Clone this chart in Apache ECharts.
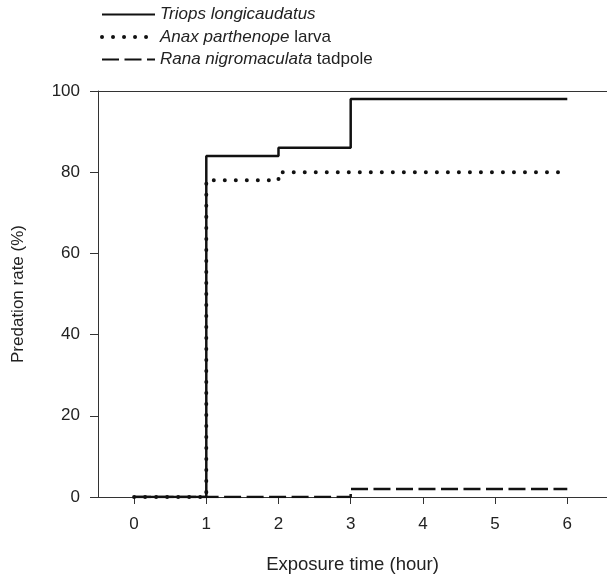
<!DOCTYPE html>
<html>
<head>
<meta charset="utf-8">
<script src="https://cdn.jsdelivr.net/npm/echarts@6/dist/echarts.min.js"></script>
<style>html,body{margin:0;padding:0;background:#fff}#c{width:607px;height:577px}</style>
</head>
<body>
<div id="c"></div>
<script>
var xTicks = [0, 1, 2, 3, 4, 5, 6];
var yTicks = [0, 20, 40, 60, 80, 100];
var hours = [0, 1, 2, 3, 4, 5, 6];
var triops = [0, 84, 86, 98, 98, 98, 98];
var anax = [0, 78, 80, 80, 80, 80, 80];
var rana = [0, 0, 0, 2, 2, 2, 2];
var names = ['Triops longicaudatus', 'Anax parthenope larva', 'Rana nigromaculata tadpole'];

function pairs(v) { return hours.map(function (h, i) { return [h, v[i]]; }); }

var FONT = 'Liberation Sans, Arial, Helvetica, sans-serif';
var dotStyle = { color: '#111', width: 4, type: [0.01, 11], cap: 'round' };
var chart = echarts.init(document.getElementById('c'));
chart.setOption({
  animation: false,
  legend: {
    left: 95, top: 1, orient: 'vertical',
    itemWidth: 53, itemHeight: 14, itemGap: 5.5,
    itemStyle: { opacity: 0 },
    textStyle: {
      fontFamily: FONT, fontSize: 17, color: '#222',
      rich: {
        i: { fontStyle: 'italic', fontFamily: FONT, fontSize: 17, color: '#222', padding: [0, 0, 0, 0] },
        n: { fontFamily: FONT, fontSize: 17, color: '#222' }
      }
    },
    formatter: function (n) {
      if (n === names[0]) return '{i|Triops longicaudatus}';
      if (n === names[1]) return '{i|Anax parthenope}{n| larva}';
      return '{i|Rana nigromaculata}{n| tadpole}';
    },
    data: [
      { name: names[0] },
      { name: names[1], lineStyle: dotStyle },
      { name: names[2] }
    ]
  },
  grid: { left: 98, right: 0, top: 91, bottom: 80, outerBoundsMode: 'none', containLabel: false },
  xAxis: [{
    type: 'value', min: -0.5, max: 6.55,
    name: 'Exposure time (hour)', nameLocation: 'middle', nameGap: 58,
    nameTextStyle: { fontFamily: FONT, fontSize: 18.5, color: '#222' },
    axisLine: { lineStyle: { color: '#333', width: 1 } },
    axisTick: { show: true, length: 7, customValues: xTicks, lineStyle: { color: '#333' } },
    axisLabel: { customValues: xTicks, fontFamily: FONT, fontSize: 17, color: '#222', margin: 19 },
    splitLine: { show: false }
  }, {
    type: 'value', min: -0.5, max: 6.55, position: 'top',
    axisLine: { show: true, lineStyle: { color: '#333', width: 1 } },
    axisTick: { show: false }, axisLabel: { show: false }, splitLine: { show: false }
  }],
  yAxis: {
    type: 'value', min: 0, max: 100, interval: 20,
    name: 'Predation rate (%)', nameLocation: 'middle', nameGap: 71,
    nameTextStyle: { fontFamily: FONT, fontSize: 17, color: '#222' },
    axisLine: { show: true, onZero: false, lineStyle: { color: '#333', width: 1 } },
    axisTick: { show: true, length: 8, lineStyle: { color: '#333' } },
    axisLabel: { fontFamily: FONT, fontSize: 17, color: '#222', margin: 18 },
    splitLine: { show: false }
  },
  series: [{
    name: names[0], type: 'line', step: 'end', symbol: 'none',
    data: pairs(triops),
    lineStyle: { color: '#111', width: 2.5, type: 'solid' }
  }, {
    name: names[1], type: 'line', step: 'end', symbol: 'none',
    data: pairs(anax),
    lineStyle: dotStyle
  }, {
    name: names[2], type: 'line', step: 'end', symbol: 'none',
    data: pairs(rana),
    lineStyle: { color: '#111', width: 2.5, type: [17, 5.5] }
  }]
});
</script>
</body>
</html>
